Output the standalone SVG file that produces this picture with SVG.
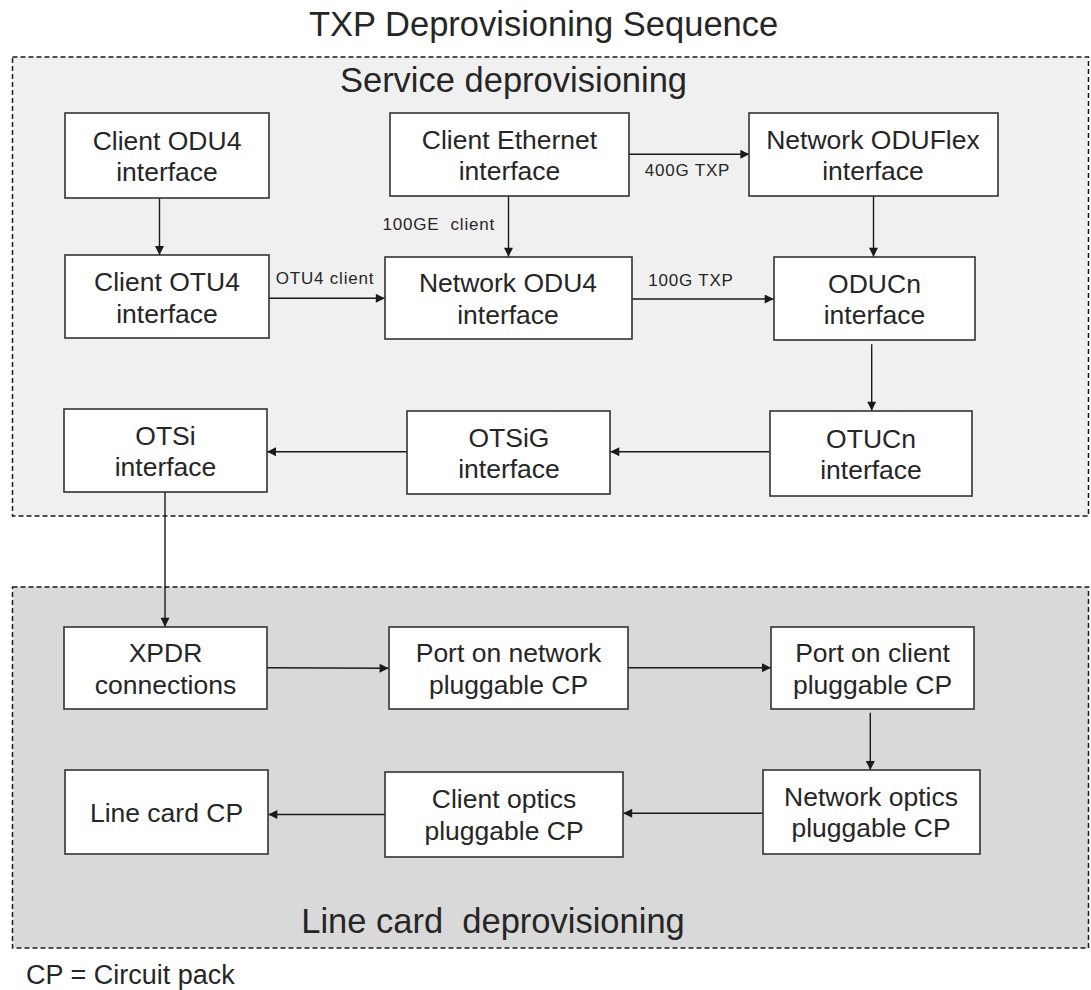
<svg xmlns="http://www.w3.org/2000/svg" width="1091" height="990" viewBox="0 0 1091 990">
  <defs>
    <marker id="arrow" viewBox="0 0 10 10" refX="10" refY="5" markerWidth="10" markerHeight="9" markerUnits="userSpaceOnUse" orient="auto">
      <path d="M0,0 L10,5 L0,10 z" fill="#1a1a1a"/>
    </marker>
    <style>
      .heading { font-family: "Liberation Sans", Arial, sans-serif; font-size: 34.5px; fill: #262626; text-anchor: middle; }
      .zone { stroke: #1a1a1a; stroke-width: 1.5; stroke-dasharray: 5 3; }
      .node rect { fill: #ffffff; stroke: #333333; stroke-width: 1.6; }
      .node text { font-family: "Liberation Sans", Arial, sans-serif; font-size: 26.5px; fill: #262626; text-anchor: middle; }
      .edge { stroke: #1a1a1a; stroke-width: 1.4; fill: none; marker-end: url(#arrow); }
      .label { font-family: "Liberation Sans", Arial, sans-serif; font-size: 17px; letter-spacing: 0.8px; fill: #262626; }
      .note { font-family: "Liberation Sans", Arial, sans-serif; font-size: 27px; fill: #262626; }
    </style>
  </defs>

  <rect width="1091" height="990" fill="#ffffff"/>

  <!-- title -->
  <text class="heading" x="543.6" y="36">TXP Deprovisioning Sequence</text>

  <!-- zones -->
  <rect class="zone" x="12.5" y="57" width="1076" height="459" fill="#f0f0f0"/>
  <rect class="zone" x="12.5" y="587" width="1076" height="361" fill="#d9d9d9"/>
  <text class="heading" x="513.5" y="91.7">Service deprovisioning</text>
  <text class="heading" x="493" y="933.3" xml:space="preserve">Line card  deprovisioning</text>

  <!-- connectors -->
  <g id="connectors">
    <line class="edge" x1="159.5" y1="197.7" x2="159.5" y2="255"/>
    <line class="edge" x1="508.5" y1="196" x2="508.5" y2="256.7"/>
    <line class="edge" x1="628.8" y1="154.3" x2="749.4" y2="154.3"/>
    <line class="edge" x1="873.5" y1="196" x2="873.5" y2="256.7"/>
    <line class="edge" x1="268.7" y1="298.3" x2="384.8" y2="298.3"/>
    <line class="edge" x1="631.9" y1="299" x2="773.7" y2="299"/>
    <line class="edge" x1="871.7" y1="344.3" x2="871.7" y2="410.7"/>
    <line class="edge" x1="769.5" y1="451.7" x2="610.3" y2="451.7"/>
    <line class="edge" x1="407.4" y1="451.7" x2="267" y2="451.7"/>
    <line class="edge" x1="165" y1="492.3" x2="165" y2="626.7"/>
    <line class="edge" x1="267" y1="667.7" x2="388.6" y2="668.3"/>
    <line class="edge" x1="627.7" y1="667.7" x2="771" y2="667.7"/>
    <line class="edge" x1="870.3" y1="712.7" x2="870.3" y2="770"/>
    <line class="edge" x1="762.6" y1="813.3" x2="623.2" y2="813.3"/>
    <line class="edge" x1="384.8" y1="814.5" x2="268.3" y2="814.5"/>

    <text class="label" x="495" y="230" text-anchor="end" xml:space="preserve">100GE  client</text>
    <text class="label" x="687.5" y="175.7" text-anchor="middle">400G TXP</text>
    <text class="label" x="325" y="284" text-anchor="middle">OTU4 client</text>
    <text class="label" x="691" y="285.5" text-anchor="middle">100G TXP</text>
  </g>

  <!-- service nodes -->
  <g id="client-odu4" class="node">
    <rect x="65" y="113" width="204" height="85"/>
    <text x="167" y="149.5">Client ODU4</text>
    <text x="167" y="181">interface</text>
  </g>
  <g id="client-ethernet" class="node">
    <rect x="390" y="113" width="239" height="83"/>
    <text x="509.5" y="148.5">Client Ethernet</text>
    <text x="509.5" y="180">interface</text>
  </g>
  <g id="network-oduflex" class="node">
    <rect x="749" y="113" width="249" height="83"/>
    <text x="873" y="148.5">Network ODUFlex</text>
    <text x="873" y="180">interface</text>
  </g>
  <g id="client-otu4" class="node">
    <rect x="65" y="255" width="204" height="83"/>
    <text x="167" y="291">Client OTU4</text>
    <text x="167" y="322.5">interface</text>
  </g>
  <g id="network-odu4" class="node">
    <rect x="385" y="257" width="247" height="82"/>
    <text x="508" y="292">Network ODU4</text>
    <text x="508" y="323.5">interface</text>
  </g>
  <g id="oducn" class="node">
    <rect x="774" y="257" width="201" height="83"/>
    <text x="874.5" y="292.5">ODUCn</text>
    <text x="874.5" y="324">interface</text>
  </g>
  <g id="otsi" class="node">
    <rect x="64" y="409" width="203" height="83"/>
    <text x="165.5" y="444.5">OTSi</text>
    <text x="165.5" y="476">interface</text>
  </g>
  <g id="otsig" class="node">
    <rect x="407" y="411" width="203" height="83"/>
    <text x="509" y="446.5">OTSiG</text>
    <text x="509" y="478">interface</text>
  </g>
  <g id="otucn" class="node">
    <rect x="770" y="411" width="202" height="85"/>
    <text x="871" y="447.5">OTUCn</text>
    <text x="871" y="479">interface</text>
  </g>

  <!-- line card nodes -->
  <g id="xpdr-connections" class="node">
    <rect x="64" y="627" width="203" height="82"/>
    <text x="165.5" y="662">XPDR</text>
    <text x="165.5" y="693.5">connections</text>
  </g>
  <g id="port-network-pluggable" class="node">
    <rect x="389" y="627" width="239" height="82"/>
    <text x="508.5" y="662">Port on network</text>
    <text x="508.5" y="693.5">pluggable CP</text>
  </g>
  <g id="port-client-pluggable" class="node">
    <rect x="771" y="627" width="203" height="82"/>
    <text x="872.5" y="662">Port on client</text>
    <text x="872.5" y="693.5">pluggable CP</text>
  </g>
  <g id="line-card-cp" class="node">
    <rect x="65" y="770" width="203" height="84"/>
    <text x="166.5" y="821.5">Line card CP</text>
  </g>
  <g id="client-optics-pluggable" class="node">
    <rect x="385" y="772" width="238" height="85"/>
    <text x="504" y="808">Client optics</text>
    <text x="504" y="839.5">pluggable CP</text>
  </g>
  <g id="network-optics-pluggable" class="node">
    <rect x="763" y="770" width="217" height="84"/>
    <text x="871" y="805.5">Network optics</text>
    <text x="871" y="837">pluggable CP</text>
  </g>

  <!-- footnote -->
  <text class="note" x="26" y="984">CP = Circuit pack</text>
</svg>
